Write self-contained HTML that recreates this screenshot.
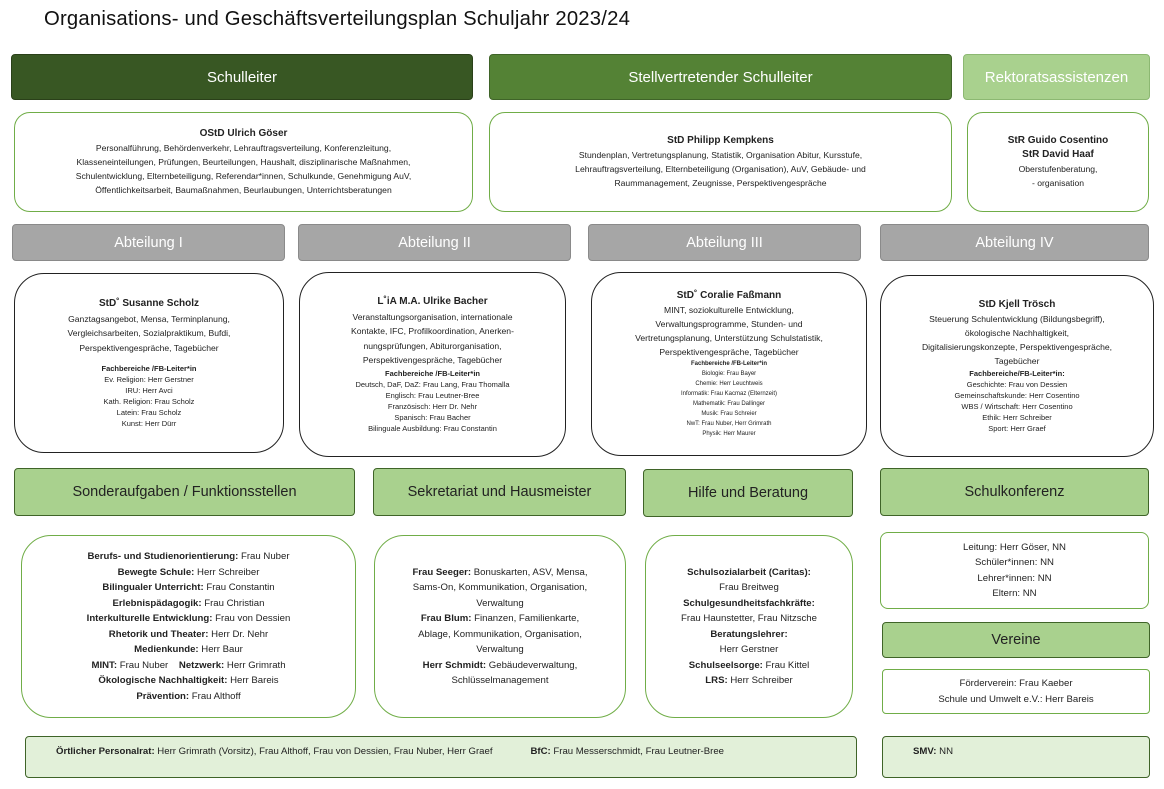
<!DOCTYPE html>
<html><head><meta charset="utf-8">
<style>
*{margin:0;padding:0;box-sizing:border-box}
body{width:1164px;height:789px;background:#fff;position:relative;overflow:hidden;font-family:"Liberation Sans",sans-serif;color:#222}
.b{position:absolute;display:flex;flex-direction:column;align-items:center;justify-content:center;text-align:center}
.h1{background:#385723;color:#fff;border:1px solid #2a4019;border-radius:4px;font-size:15px}
.h2{background:#548235;color:#fff;border:1px solid #3f6428;border-radius:4px;font-size:15px}
.h3{background:#a9d18e;color:#fff;border:1px solid #8cb872;border-radius:4px;font-size:15px}
.g{background:#a6a6a6;color:#fff;border:1px solid #8a8a8a;border-radius:4px;font-size:14.5px}
.lg{background:#a9d18e;color:#222;border:1px solid #3f6428;border-radius:4px;font-size:14.5px}
.gb{border:1px solid #70ad47;border-radius:16px;font-size:9px;line-height:14px}
.kb{border:1px solid #222;border-radius:30px;font-size:9px;line-height:14px}
.sm{font-size:7px;line-height:11px}
b{font-weight:bold}
</style></head><body>
<div style="position:absolute;left:44px;top:8px;font-size:20.3px;letter-spacing:0.2px;color:#111">Organisations- und Geschäftsverteilungsplan Schuljahr 2023/24</div>

<div class="b h1" style="left:11px;top:54px;width:462px;height:46px">Schulleiter</div>
<div class="b h2" style="left:489px;top:54px;width:463px;height:46px">Stellvertretender Schulleiter</div>
<div class="b h3" style="left:963px;top:54px;width:187px;height:46px">Rektoratsassistenzen</div>

<div class="b gb" style="left:14px;top:112px;width:459px;height:100px;font-size:8.6px;line-height:14px"><b style="font-size:10px">OStD Ulrich Göser</b>Personalführung, Behördenverkehr, Lehrauftragsverteilung, Konferenzleitung,<br>Klasseneinteilungen, Prüfungen, Beurteilungen, Haushalt, disziplinarische Maßnahmen,<br>Schulentwicklung, Elternbeteiligung, Referendar*innen, Schulkunde, Genehmigung AuV,<br>Öffentlichkeitsarbeit, Baumaßnahmen, Beurlaubungen, Unterrichtsberatungen</div>
<div class="b gb" style="left:489px;top:112px;width:463px;height:100px;font-size:8.6px;line-height:14px"><b style="font-size:10px">StD Philipp Kempkens</b>Stundenplan, Vertretungsplanung, Statistik, Organisation Abitur, Kursstufe,<br>Lehrauftragsverteilung, Elternbeteiligung (Organisation), AuV, Gebäude- und<br>Raummanagement, Zeugnisse, Perspektivengespräche</div>
<div class="b gb" style="left:967px;top:112px;width:182px;height:100px;font-size:8.6px;line-height:14px"><b style="font-size:10px">StR Guido Cosentino</b><b style="font-size:10px">StR David Haaf</b>Oberstufenberatung,<br>- organisation</div>

<div class="b g" style="left:12px;top:224px;width:273px;height:37px">Abteilung I</div>
<div class="b g" style="left:298px;top:224px;width:273px;height:37px">Abteilung II</div>
<div class="b g" style="left:588px;top:224px;width:273px;height:37px">Abteilung III</div>
<div class="b g" style="left:880px;top:224px;width:269px;height:37px">Abteilung IV</div>

<div class="b kb" style="left:14px;top:273px;width:270px;height:180px;font-size:8.6px;line-height:14.5px"><b style="font-size:10px">StD˚ Susanne Scholz</b>Ganztagsangebot, Mensa, Terminplanung,<br>Vergleichsarbeiten, Sozialpraktikum, Bufdi,<br>Perspektivengespräche, Tagebücher<div style="height:8px"></div><b style="font-size:7.5px;line-height:11px">Fachbereiche /FB-Leiter*in</b><span class="sm" style="font-size:7.5px">Ev. Religion: Herr Gerstner<br>IRU: Herr Avci<br>Kath. Religion: Frau Scholz<br>Latein: Frau Scholz<br>Kunst: Herr Dürr</span></div>
<div class="b kb" style="left:299px;top:272px;width:267px;height:185px;font-size:8.6px;line-height:14.5px"><b style="font-size:10px">L˚iA M.A. Ulrike Bacher</b>Veranstaltungsorganisation, internationale<br>Kontakte, IFC, Profilkoordination, Anerken-<br>nungsprüfungen, Abiturorganisation,<br>Perspektivengespräche, Tagebücher<b style="font-size:7.5px;line-height:11px">Fachbereiche /FB-Leiter*in</b><span class="sm" style="font-size:7.5px">Deutsch, DaF, DaZ: Frau Lang, Frau Thomalla<br>Englisch: Frau Leutner-Bree<br>Französisch: Herr Dr. Nehr<br>Spanisch: Frau Bacher<br>Bilinguale Ausbildung: Frau Constantin</span></div>
<div class="b kb" style="left:591px;top:272px;width:276px;height:184px;font-size:8.6px;line-height:14px"><b style="font-size:10px">StD˚ Coralie Faßmann</b>MINT, soziokulturelle Entwicklung,<br>Verwaltungsprogramme, Stunden- und<br>Vertretungsplanung, Unterstützung Schulstatistik,<br>Perspektivengespräche, Tagebücher<b class="sm" style="font-size:6px;line-height:10px">Fachbereiche /FB-Leiter*in</b><span style="font-size:6px;line-height:10px">Biologie: Frau Bayer<br>Chemie: Herr Leuchtweis<br>Informatik: Frau Kacmaz (Elternzeit)<br>Mathematik: Frau Dallinger<br>Musik: Frau Schreier<br>NwT: Frau Nuber, Herr Grimrath<br>Physik: Herr Maurer</span></div>
<div class="b kb" style="left:880px;top:275px;width:274px;height:182px;font-size:8.6px;line-height:14px"><b style="font-size:10px">StD Kjell Trösch</b>Steuerung Schulentwicklung (Bildungsbegriff),<br>ökologische Nachhaltigkeit,<br>Digitalisierungskonzepte, Perspektivengespräche,<br>Tagebücher<b style="font-size:7.5px;line-height:11px">Fachbereiche/FB-Leiter*in:</b><span style="font-size:7.5px;line-height:11px">Geschichte: Frau von Dessien<br>Gemeinschaftskunde: Herr Cosentino<br>WBS / Wirtschaft: Herr Cosentino<br>Ethik: Herr Schreiber<br>Sport: Herr Graef</span></div>

<div class="b lg" style="left:14px;top:468px;width:341px;height:48px">Sonderaufgaben / Funktionsstellen</div>
<div class="b lg" style="left:373px;top:468px;width:253px;height:48px">Sekretariat und Hausmeister</div>
<div class="b lg" style="left:643px;top:469px;width:210px;height:48px">Hilfe und Beratung</div>
<div class="b lg" style="left:880px;top:468px;width:269px;height:48px">Schulkonferenz</div>

<div class="b gb" style="left:21px;top:535px;width:335px;height:183px;border-radius:30px;font-size:9.6px;line-height:15.5px"><span><b>Berufs- und Studienorientierung:</b> Frau Nuber</span><span><b>Bewegte Schule:</b> Herr Schreiber</span><span><b>Bilingualer Unterricht:</b> Frau Constantin</span><span><b>Erlebnispädagogik:</b> Frau Christian</span><span><b>Interkulturelle Entwicklung:</b> Frau von Dessien</span><span><b>Rhetorik und Theater:</b> Herr Dr. Nehr</span><span><b>Medienkunde:</b> Herr Baur</span><span><b>MINT:</b> Frau Nuber &nbsp;&nbsp; <b>Netzwerk:</b> Herr Grimrath</span><span><b>Ökologische Nachhaltigkeit:</b> Herr Bareis</span><span><b>Prävention:</b> Frau Althoff</span></div>
<div class="b gb" style="left:374px;top:535px;width:252px;height:183px;border-radius:30px;font-size:9.6px;line-height:15.5px"><span><b>Frau Seeger:</b> Bonuskarten, ASV, Mensa,<br>Sams-On, Kommunikation, Organisation,<br>Verwaltung</span><span><b>Frau Blum:</b> Finanzen, Familienkarte,<br>Ablage, Kommunikation, Organisation,<br>Verwaltung</span><span><b>Herr Schmidt:</b> Gebäudeverwaltung,<br>Schlüsselmanagement</span></div>
<div class="b gb" style="left:645px;top:535px;width:208px;height:183px;border-radius:30px;font-size:9.6px;line-height:15.5px"><b>Schulsozialarbeit (Caritas):</b>Frau Breitweg<b>Schulgesundheitsfachkräfte:</b>Frau Haunstetter, Frau Nitzsche<b>Beratungslehrer:</b>Herr Gerstner<span><b>Schulseelsorge:</b> Frau Kittel</span><span><b>LRS:</b> Herr Schreiber</span></div>
<div class="b gb" style="left:880px;top:532px;width:269px;height:77px;border-radius:8px;font-size:9.6px;line-height:15.5px">Leitung: Herr Göser, NN<br>Schüler*innen: NN<br>Lehrer*innen: NN<br>Eltern: NN</div>
<div class="b lg" style="left:882px;top:622px;width:268px;height:36px">Vereine</div>
<div class="b gb" style="left:882px;top:669px;width:268px;height:45px;border-radius:4px;font-size:9.6px;line-height:15.5px">Förderverein: Frau Kaeber<br>Schule und Umwelt e.V.: Herr Bareis</div>

<div class="b" style="left:25px;top:736px;width:832px;height:42px;background:#e2f0d9;border:1px solid #3f6428;border-radius:4px;font-size:9.6px;flex-direction:row;justify-content:flex-start;padding-left:30px;align-items:center;padding-bottom:12px"><span><b>Örtlicher Personalrat:</b> Herr Grimrath (Vorsitz), Frau Althoff, Frau von Dessien, Frau Nuber, Herr Graef</span><span style="margin-left:38px"><b>BfC:</b> Frau Messerschmidt, Frau Leutner-Bree</span></div>
<div class="b" style="left:882px;top:736px;width:268px;height:42px;background:#e2f0d9;border:1px solid #3f6428;border-radius:4px;font-size:9.6px;align-items:flex-start;padding-left:30px;justify-content:center;padding-bottom:12px"><span><b>SMV:</b> NN</span></div>
</body></html>
